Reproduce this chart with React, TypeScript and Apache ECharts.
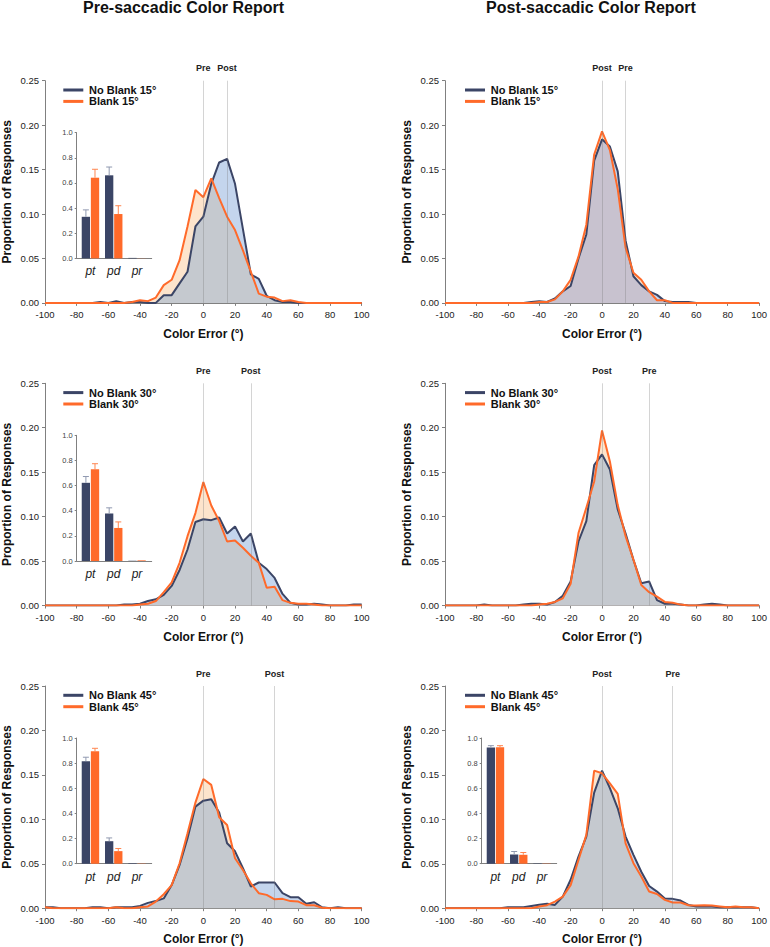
import React, { useEffect, useRef } from "react";
import * as echarts from "echarts";

// ---------- data ----------
const errorBins = [
  -100, -95, -90, -85, -80, -75, -70, -65, -60,
  -55, -50, -45, -40, -35, -30, -25, -20,
  -15, -10, -5, 0, 5, 10, 15, 20,
  25, 30, 35, 40, 45, 50, 55, 60,
  65, 70, 75, 80, 85, 90, 95, 100,
];

const noBlank15Pre = [
  0, 0, 0, 0, 0, 0, 0, 0.001, 0,
  0.002, 0, 0.001, 0.001, 0, 0, 0.0087, 0.0087,
  0.022, 0.035, 0.086, 0.097, 0.134, 0.158, 0.162, 0.134,
  0.083, 0.032, 0.027, 0.008, 0.003, 0.001, 0.001, 0,
  0, 0, 0, 0, 0, 0, 0, 0,
];
const blank15Pre = [
  0, 0, 0, 0, 0, 0, 0, 0, 0,
  0, 0, 0.001, 0.003, 0.002, 0.006, 0.02, 0.026,
  0.048, 0.086, 0.127, 0.119, 0.14, 0.118, 0.097, 0.082,
  0.059, 0.035, 0.0105, 0.007, 0.006, 0.002, 0.003, 0.001,
  0, 0, 0, 0, 0, 0, 0, 0,
];
const noBlank15Post = [
  0, 0, 0, 0, 0, 0, 0, 0, 0,
  0, 0, 0.001, 0.002, 0.001, 0.005, 0.013, 0.019,
  0.05, 0.077, 0.16, 0.184, 0.176, 0.148, 0.07, 0.03,
  0.02, 0.013, 0.009, 0.002, 0.001, 0.001, 0.001, 0,
  0, 0, 0, 0, 0, 0, 0, 0,
];
const blank15Post = [
  0, 0, 0, 0, 0, 0, 0, 0, 0,
  0, 0, 0, 0.001, 0.001, 0.004, 0.013, 0.026,
  0.052, 0.088, 0.167, 0.193, 0.172, 0.128, 0.062, 0.034,
  0.026, 0.013, 0.003, 0.003, 0, 0, 0, 0,
  0, 0, 0, 0, 0, 0, 0, 0,
];
const noBlank30Pre = [
  0, 0, 0, 0, 0, 0, 0, 0, 0,
  0, 0.001, 0.001, 0.002, 0.005, 0.007, 0.012, 0.022,
  0.04, 0.063, 0.094, 0.097, 0.096, 0.099, 0.081, 0.089,
  0.072, 0.081, 0.048, 0.041, 0.031, 0.013, 0.003, 0.001,
  0.001, 0.002, 0.001, 0, 0, 0, 0.001, 0.001,
];
const blank30Pre = [
  0, 0, 0, 0, 0, 0, 0, 0, 0,
  0, 0, 0, 0.001, 0.002, 0.005, 0.015, 0.026,
  0.048, 0.078, 0.104, 0.139, 0.1125, 0.095, 0.072, 0.073,
  0.065, 0.056, 0.048, 0.02, 0.021, 0.006, 0.003, 0.002,
  0.002, 0.001, 0, 0, 0, 0, 0, 0,
];
const noBlank30Post = [
  0, 0, 0, 0, 0, 0.001, 0, 0, 0,
  0, 0.001, 0.002, 0.002, 0.001, 0.004, 0.011, 0.027,
  0.072, 0.095, 0.158, 0.17, 0.153, 0.108, 0.081, 0.0515,
  0.025, 0.027, 0.006, 0.002, 0.002, 0.001, 0, 0,
  0.001, 0.002, 0.001, 0, 0, 0, 0, 0,
];
const blank30Post = [
  0, 0, 0, 0, 0, 0, 0, 0, 0,
  0, 0, 0, 0.001, 0.002, 0.004, 0.008, 0.0245,
  0.0815, 0.11, 0.1395, 0.197, 0.162, 0.113, 0.078, 0.0515,
  0.023, 0.015, 0.01, 0.004, 0.003, 0.001, 0, 0,
  0, 0, 0, 0, 0, 0, 0, 0,
];
const noBlank45Pre = [
  0.001, 0.001, 0, 0, 0, 0, 0.001, 0.001, 0,
  0.001, 0.001, 0.001, 0.0026, 0.006, 0.008, 0.011, 0.026,
  0.0487, 0.0787, 0.1143, 0.121, 0.1226, 0.1076, 0.073, 0.064,
  0.045, 0.0244, 0.0289, 0.0289, 0.0289, 0.017, 0.0124, 0.0124,
  0.005, 0.0067, 0.001, 0, 0.001, 0, 0, 0,
];
const blank45Pre = [
  0.001, 0, 0, 0, 0, 0, 0, 0, 0,
  0.001, 0, 0, 0.001, 0.002, 0.0075, 0.0157, 0.026,
  0.0506, 0.0843, 0.1188, 0.1454, 0.1387, 0.1023, 0.0937, 0.0562,
  0.043, 0.028, 0.0169, 0.015, 0.01, 0.0105, 0.008, 0.0075,
  0.0034, 0.0034, 0.0005, 0, 0, 0, 0, 0,
];
const noBlank45Post = [
  0, 0, 0, 0, 0, 0, 0, 0, 0.001,
  0.001, 0.001, 0.0026, 0.004, 0.005, 0.0037, 0.013, 0.032,
  0.058, 0.0806, 0.13, 0.1548, 0.135, 0.1124, 0.0806, 0.06,
  0.041, 0.025, 0.0187, 0.011, 0.0105, 0.0086, 0.0037, 0.002,
  0.002, 0.002, 0.001, 0.001, 0.001, 0.001, 0.001, 0,
];
const blank45Post = [
  0, 0, 0, 0, 0, 0, 0, 0, 0,
  0, 0, 0, 0.002, 0.0034, 0.0075, 0.013, 0.026,
  0.0543, 0.0825, 0.1548, 0.1518, 0.1405, 0.1286, 0.073, 0.0506,
  0.0356, 0.0187, 0.016, 0.0094, 0.0064, 0.0064, 0.0034, 0.003,
  0.0034, 0.003, 0.002, 0.001, 0.002, 0.001, 0.001, 0,
];

const yTicks = [0, 0.05, 0.1, 0.15, 0.2, 0.25];

// inset bar charts (pt, pd, pr)
const insetCategories = ["pt", "pd", "pr"];
const insetNoBlank15Pre = [0.331, 0.661, 0.004];
const insetNoBlank15PreErr = [0.055, 0.066, 0];
const insetBlank15Pre = [0.642, 0.353, 0.001];
const insetBlank15PreErr = [0.067, 0.066, 0];
const insetNoBlank30Pre = [0.622, 0.378, 0.002];
const insetNoBlank30PreErr = [0.05, 0.045, 0];
const insetBlank30Pre = [0.729, 0.263, 0.005];
const insetBlank30PreErr = [0.045, 0.048, 0];
const insetNoBlank45Pre = [0.816, 0.179, 0.004];
const insetNoBlank45PreErr = [0.031, 0.026, 0];
const insetBlank45Pre = [0.895, 0.1, 0.002];
const insetBlank45PreErr = [0.023, 0.021, 0];
const insetNoBlank45Post = [0.924, 0.074, 0.003];
const insetNoBlank45PostErr = [0.015, 0.023, 0];
const insetBlank45Post = [0.926, 0.071, 0.002];
const insetBlank45PostErr = [0.013, 0.018, 0];

// ---------- styling ----------
const FONT = '"Liberation Sans", Arial, Helvetica, sans-serif';
const NAVY = "#3b4566";
const ORANGE = "#ff6a2a";
const NAVY_ERR = "#9099b0";
const ORANGE_ERR = "#ff8650";
const BLUE_FILL = "#c4d5ed";
const PEACH_FILL = "#fde4cc";
const GRAY_FILL = "#c5c9cf";
const MAUVE_FILL = "#c8c2cf";
const AXIS_COLOR = "#808080";

const COL_LEFT = [43.3, 445];
const ROW_TOP = [80.7, 383.3, 686];
const PLOT_W = 318.4;
const PLOT_H = 222.2;
const INSET_LEFT = [76.7, 481.7];
const INSET_TOP_OFFSET = 52; // from plot top
const INSET_W = 75;
const INSET_H = 125.7;

type Panel = {
  col: number;
  row: number;
  shift: number;
  post: boolean;
  noBlank: number[];
  blank: number[];
  envelopeFill: string;
  inset?: { nb: number[]; nbErr: number[]; b: number[]; bErr: number[] };
};

const panels: Panel[] = [
  { col: 0, row: 0, shift: 15, post: false, noBlank: noBlank15Pre, blank: blank15Pre, envelopeFill: GRAY_FILL,
    inset: { nb: insetNoBlank15Pre, nbErr: insetNoBlank15PreErr, b: insetBlank15Pre, bErr: insetBlank15PreErr } },
  { col: 1, row: 0, shift: 15, post: true, noBlank: noBlank15Post, blank: blank15Post, envelopeFill: MAUVE_FILL },
  { col: 0, row: 1, shift: 30, post: false, noBlank: noBlank30Pre, blank: blank30Pre, envelopeFill: GRAY_FILL,
    inset: { nb: insetNoBlank30Pre, nbErr: insetNoBlank30PreErr, b: insetBlank30Pre, bErr: insetBlank30PreErr } },
  { col: 1, row: 1, shift: 30, post: true, noBlank: noBlank30Post, blank: blank30Post, envelopeFill: GRAY_FILL },
  { col: 0, row: 2, shift: 45, post: false, noBlank: noBlank45Pre, blank: blank45Pre, envelopeFill: GRAY_FILL,
    inset: { nb: insetNoBlank45Pre, nbErr: insetNoBlank45PreErr, b: insetBlank45Pre, bErr: insetBlank45PreErr } },
  { col: 1, row: 2, shift: 45, post: true, noBlank: noBlank45Post, blank: blank45Post, envelopeFill: GRAY_FILL,
    inset: { nb: insetNoBlank45Post, nbErr: insetNoBlank45PostErr, b: insetBlank45Post, bErr: insetBlank45PostErr } },
];

function pairs(values: number[]) {
  return errorBins.map((x, i) => [x, values[i]]);
}

// lower envelope of two curves (overlap region), with crossing points inserted
function lowerEnvelope(a: number[], b: number[]) {
  const out: number[][] = [];
  for (let i = 0; i < errorBins.length; i++) {
    out.push([errorBins[i], Math.min(a[i], b[i])]);
    if (i < errorBins.length - 1) {
      const d0 = a[i] - b[i];
      const d1 = a[i + 1] - b[i + 1];
      if (d0 * d1 < 0) {
        const t = d0 / (d0 - d1);
        out.push([
          errorBins[i] + t * (errorBins[i + 1] - errorBins[i]),
          a[i] + t * (a[i + 1] - a[i]),
        ]);
      }
    }
  }
  return out;
}

const BAR_W = 8.3;
const BAR_HALF_STEP = 4.55;

function errorSeries(xi: number, yi: number, vals: number[], errs: number[], dx: number, color: string) {
  return {
    type: "custom",
    xAxisIndex: xi,
    yAxisIndex: yi,
    z: 5,
    silent: true,
    data: vals.map((v, i) => [i, v, errs[i]]),
    renderItem: (params: any, api: any) => {
      const x = api.value(0);
      const v = api.value(1);
      const e = api.value(2);
      if (!(e > 0)) return { type: "group", children: [] };
      const p0 = api.coord([x, v]);
      const p1 = api.coord([x, v + e]);
      const cx = p0[0] + dx;
      return {
        type: "group",
        children: [
          { type: "line", shape: { x1: cx, y1: p0[1], x2: cx, y2: p1[1] }, style: { stroke: color, lineWidth: 1 } },
          { type: "line", shape: { x1: cx - 3, y1: p1[1], x2: cx + 3, y2: p1[1] }, style: { stroke: color, lineWidth: 1 } },
        ],
      };
    },
  };
}

function buildOption() {
  const grid: any[] = [];
  const xAxis: any[] = [];
  const yAxis: any[] = [];
  const series: any[] = [];
  const graphic: any[] = [];

  graphic.push({
    type: "text", x: 183.5, y: 7, silent: true,
    style: { text: "Pre-saccadic Color Report", font: `bold 16px ${FONT}`, fill: "#111", align: "center", verticalAlign: "middle", textAlign: "center", textVerticalAlign: "middle" },
  });
  graphic.push({
    type: "text", x: 591, y: 7, silent: true,
    style: { text: "Post-saccadic Color Report", font: `bold 16px ${FONT}`, fill: "#111", align: "center", verticalAlign: "middle", textAlign: "center", textVerticalAlign: "middle" },
  });

  panels.forEach((p) => {
    const left = COL_LEFT[p.col];
    const top = ROW_TOP[p.row];
    const gi = grid.length;
    grid.push({ left, top, width: PLOT_W, height: PLOT_H, containLabel: false });
    xAxis.push({
      type: "value", gridIndex: gi, min: -100, max: 100, interval: 20,
      axisLine: { show: true, onZero: false, lineStyle: { color: AXIS_COLOR, width: 1 } },
      axisTick: { show: true, length: 3, lineStyle: { color: AXIS_COLOR } },
      axisLabel: { fontSize: 9.5, color: "#222", margin: 7, fontFamily: FONT },
      splitLine: { show: false },
      name: "Color Error (°)", nameLocation: "middle", nameGap: 25,
      nameTextStyle: { fontSize: 12, fontWeight: "bold", color: "#111", fontFamily: FONT },
    });
    yAxis.push({
      type: "value", gridIndex: gi, min: yTicks[0], max: yTicks[yTicks.length - 1], interval: 0.05,
      axisLine: { show: true, onZero: false, lineStyle: { color: AXIS_COLOR, width: 1 } },
      axisTick: { show: true, length: 3, lineStyle: { color: AXIS_COLOR } },
      axisLabel: { fontSize: 9.5, color: "#222", margin: 6, fontFamily: FONT, formatter: (v: number) => v.toFixed(2) },
      splitLine: { show: false },
      name: "Proportion of Responses", nameLocation: "middle", nameGap: 32,
      nameTextStyle: { fontSize: 12, fontWeight: "bold", color: "#111", fontFamily: FONT },
    });

    const preX = p.post ? p.shift : 0;
    const postX = p.post ? 0 : p.shift;
    const lineLabels = p.post
      ? [{ xAxis: postX, label: { formatter: "Post" } }, { xAxis: preX, label: { formatter: "Pre" } }]
      : [{ xAxis: preX, label: { formatter: "Pre" } }, { xAxis: postX, label: { formatter: "Post" } }];

    const base = { type: "line", xAxisIndex: gi, yAxisIndex: gi, symbol: "none", silent: true };
    series.push({ ...base, name: `No Blank ${p.shift}° fill`, data: pairs(p.noBlank),
      lineStyle: { width: 0, opacity: 0 }, areaStyle: { color: BLUE_FILL, opacity: 1 } });
    series.push({ ...base, name: `Blank ${p.shift}° fill`, data: pairs(p.blank),
      lineStyle: { width: 0, opacity: 0 }, areaStyle: { color: PEACH_FILL, opacity: 1 } });
    series.push({ ...base, name: `overlap ${p.shift}°`, data: lowerEnvelope(p.noBlank, p.blank),
      lineStyle: { width: 0, opacity: 0 }, areaStyle: { color: p.envelopeFill, opacity: 1 },
      markLine: {
        silent: true, symbol: ["none", "none"], animation: false,
        lineStyle: { color: "rgba(120,120,120,0.32)", width: 1, type: "solid" },
        label: { show: true, position: "end", distance: 8, fontSize: 9, fontWeight: "bold", color: "#222", fontFamily: FONT },
        emphasis: { disabled: true },
        data: lineLabels,
      },
    });
    series.push({ ...base, name: `No Blank ${p.shift}°`, data: pairs(p.noBlank),
      lineStyle: { color: NAVY, width: 2 } });
    series.push({ ...base, name: `Blank ${p.shift}°`, data: pairs(p.blank),
      lineStyle: { color: ORANGE, width: 2 } });

    // legend
    const lx = left + 20;
    const tx = left + 45.7;
    [
      { y: top + 9.3, color: NAVY, text: `No Blank ${p.shift}°` },
      { y: top + 20.7, color: ORANGE, text: `Blank ${p.shift}°` },
    ].forEach((it) => {
      graphic.push({ type: "line", silent: true, shape: { x1: lx, y1: it.y, x2: lx + 20, y2: it.y }, style: { stroke: it.color, lineWidth: 3 } });
      graphic.push({ type: "text", x: tx, y: it.y, silent: true,
        style: { text: it.text, font: `bold 11px ${FONT}`, fill: "#111", align: "left", verticalAlign: "middle", textAlign: "left", textVerticalAlign: "middle" } });
    });

    // inset bar chart
    if (p.inset) {
      const ii = grid.length;
      const ileft = INSET_LEFT[p.col];
      grid.push({ left: ileft, top: top + INSET_TOP_OFFSET, width: INSET_W, height: INSET_H, containLabel: false });
      xAxis.push({
        type: "value", gridIndex: ii, min: -0.59, max: 2.63,
        axisLine: { show: true, onZero: false, lineStyle: { color: AXIS_COLOR, width: 1 } },
        axisTick: { show: false },
        splitLine: { show: false },
        axisLabel: {
          customValues: [0, 1, 2],
          formatter: (v: number) => insetCategories[Math.round(v)] ?? "",
          fontSize: 12, fontStyle: "italic", color: "#222", margin: 7, fontFamily: FONT,
        },
      });
      yAxis.push({
        type: "value", gridIndex: ii, min: 0, max: 1, interval: 0.2,
        axisLine: { show: true, onZero: false, lineStyle: { color: AXIS_COLOR, width: 1 } },
        axisTick: { show: true, length: 2, lineStyle: { color: AXIS_COLOR } },
        axisLabel: { fontSize: 7.5, color: "#444", margin: 4, fontFamily: FONT, formatter: (v: number) => v.toFixed(1) },
        splitLine: { show: false },
      });
      series.push({
        type: "bar", name: `No Blank ${p.shift}° inset`, xAxisIndex: ii, yAxisIndex: ii, silent: true,
        barWidth: BAR_W, barGap: "10%", itemStyle: { color: NAVY },
        data: p.inset.nb.map((v, i) => [i, v]),
      });
      series.push({
        type: "bar", name: `Blank ${p.shift}° inset`, xAxisIndex: ii, yAxisIndex: ii, silent: true,
        barWidth: BAR_W, barGap: "10%", itemStyle: { color: ORANGE },
        data: p.inset.b.map((v, i) => [i, v]),
      });
      series.push(errorSeries(ii, ii, p.inset.nb, p.inset.nbErr, -BAR_HALF_STEP, NAVY_ERR));
      series.push(errorSeries(ii, ii, p.inset.b, p.inset.bErr, BAR_HALF_STEP, ORANGE_ERR));
    }
  });

  return {
    animation: false,
    backgroundColor: "#ffffff",
    textStyle: { fontFamily: FONT },
    grid, xAxis, yAxis, series, graphic,
  };
}

export default function App() {
  const ref = useRef<HTMLDivElement>(null);
  useEffect(() => {
    if (!ref.current) return;
    const chart = echarts.init(ref.current, null, { renderer: "svg" });
    chart.setOption(buildOption() as any);
    return () => chart.dispose();
  }, []);
  return (
    <div
      ref={ref}
      style={{ position: "absolute", left: 0, top: 0, width: 770, height: 947, background: "#fff" }}
    />
  );
}
